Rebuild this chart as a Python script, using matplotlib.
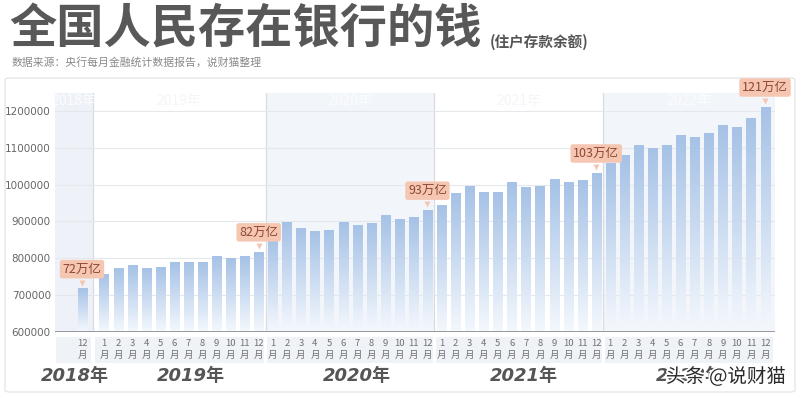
import numpy as np
import matplotlib
matplotlib.use("Agg")
import matplotlib.pyplot as plt
from matplotlib.colors import LinearSegmentedColormap
from matplotlib.patches import Rectangle, FancyBboxPatch
from matplotlib.transforms import blended_transform_factory, offset_copy
import matplotlib.patheffects as pe

plt.rcParams['font.family'] = ['Noto Sans CJK SC', 'DejaVu Sans']

# 住户存款余额（亿元），2018年12月 ~ 2022年12月
years = ['2018年', '2019年', '2020年', '2021年', '2022年']
months_2018 = [12]
deposits_2018 = [717000]
deposits_2019 = [757000, 771000, 780000, 772000, 776000, 788000,
                 788000, 789000, 804000, 799000, 804000, 817000]
deposits_2020 = [850000, 897000, 880000, 872000, 875000, 898000,
                 890000, 894000, 915000, 905000, 912000, 930000]
deposits_2021 = [944000, 977000, 996000, 979000, 979000, 1005000,
                 992000, 996000, 1014000, 1005000, 1011000, 1031000]
deposits_2022 = [1058000, 1078000, 1107000, 1099000, 1107000, 1132000,
                 1128000, 1138000, 1161000, 1156000, 1178000, 1210000]
yticks = [600000, 700000, 800000, 900000, 1000000, 1100000, 1200000]
callouts = {0: '72万亿', 12: '82万亿', 24: '93万亿', 36: '103万亿', 48: '121万亿'}

values = deposits_2018 + deposits_2019 + deposits_2020 + deposits_2021 + deposits_2022
month_nums = months_2018 + list(range(1, 13)) * 4
# 2018年12月 单独一格，和后面的月份之间留一点空
xs = [0.0] + [1.56 + i for i in range(48)]

fig = plt.figure(figsize=(8, 3.96), dpi=100)
fig.patch.set_facecolor('white')

# 外面的白色面板
panel = FancyBboxPatch((5 / 800, 4 / 396), 790 / 800, 314 / 396,
                       boxstyle='round,pad=0,rounding_size=0.006',
                       transform=fig.transFigure, fc='white', ec='#e6e6e6', lw=1, zorder=-5)
fig.patches.append(panel)

fig.text(9 / 800, 1 - 29 / 396, '全国人民存在银行的钱', fontsize=34, fontweight='bold',
         color='#585858', va='center', ha='left')
fig.text(490 / 800, 1 - 42 / 396, '(住户存款余额)', fontsize=10.5, fontweight='bold',
         color='#555555', va='center', ha='left')
fig.text(12 / 800, 1 - 62 / 396, '数据来源：央行每月金融统计数据报告，说财猫整理', fontsize=7.8,
         color='#8a8a8a', va='center', ha='left')

ax = fig.add_axes([55 / 800, 1 - 332 / 396, 720 / 800, 239 / 396])
ax.set_facecolor('none')
x0, x1 = -1.92, 49.27
y0, y1 = 600000, 1248500

# 年份背景色带
bounds = [x0, 0.78, 13.06, 25.06, 37.06, x1]
band_colors = ['#eef2f8', '#ffffff', '#f2f5f9', '#ffffff', '#f2f5f9']
trans = blended_transform_factory(ax.transData, ax.transAxes)
for i in range(5):
    ax.axvspan(bounds[i], bounds[i + 1], color=band_colors[i], zorder=0, lw=0)
for b in bounds[1:-1]:
    ax.axvline(b, color='#d8dce2', lw=0.9, zorder=1)

for yt in yticks[1:]:
    ax.axhline(yt, color='#e4e7eb', lw=0.8, zorder=1)

# 渐变柱子
cmap = LinearSegmentedColormap.from_list('dep', ['#f4f8fd', '#a6c2e6'])
grad = np.linspace(0, 1, 100).reshape(-1, 1)
w = 0.64
for x, v in zip(xs, values):
    ax.imshow(grad, extent=(x - w / 2, x + w / 2, y0, v), origin='lower',
              aspect='auto', cmap=cmap, zorder=2, interpolation='bicubic')

# 标注
box_color = '#f5c7b3'
label_trans = offset_copy(ax.transData, fig=fig, x=0, y=4.5, units='points')
for idx, txt in callouts.items():
    ax.annotate(txt, xy=(xs[idx], values[idx]), xytext=(0, 9.5), textcoords='offset points',
                ha='center', va='bottom', fontsize=9, color='#8e4731', zorder=5,
                bbox=dict(boxstyle='round,pad=0.22,rounding_size=0.2', fc=box_color, ec='none'))
    ax.plot(xs[idx], values[idx], marker='v', ms=5, color=box_color, mec='none',
            transform=label_trans, zorder=5)

ax.axhline(y0, color='#8d9096', lw=2, zorder=4)

ax.set_xlim(x0, x1)
ax.set_ylim(y0, y1)
ax.set_xticks([])
ax.set_yticks(yticks)
ax.set_yticklabels([str(t) for t in yticks], fontsize=7.5, color='#666666', family='DejaVu Sans')
ax.tick_params(axis='y', length=0, pad=3)
for s in ax.spines.values():
    s.set_visible(False)

# 月份标签的灰色底块
for i in range(5):
    left = bounds[i] + (0.12 if i > 0 else 0.05)
    right = bounds[i + 1] - 0.12
    ax.add_patch(Rectangle((left, -0.128), right - left, 0.108, transform=trans,
                           fc='#eff2f6', ec='none', clip_on=False, zorder=0))

for x, m in zip(xs, month_nums):
    ax.text(x, -0.05, str(m), transform=trans, ha='center', va='center',
            fontsize=6.8, color='#707070', clip_on=False)
    ax.text(x, -0.1, '月', transform=trans, ha='center', va='center',
            fontsize=6.8, color='#707070', clip_on=False)

year_x = [-0.5, 7.75, 19.56, 31.4, 43.2]
for yx, yl in zip(year_x, years):
    ax.text(yx, -0.185, yl, transform=trans, ha='center', va='center', fontsize=13,
            fontweight='bold', style='italic', color='#555555', clip_on=False,
            family=['DejaVu Sans', 'Noto Sans CJK SC'])

# 顶部淡淡的年份
for i, yl in enumerate(years):
    ax.text((bounds[i] + bounds[i + 1]) / 2, 0.965, yl, transform=trans, ha='center',
            va='center', fontsize=10, color='#f3f5f8' if band_colors[i] == '#ffffff' else '#fbfcfd',
            zorder=1)

fig.text(726 / 800, 1 - 377 / 396, '头条 @说财猫', fontsize=14, color='#2a2a2a',
         ha='center', va='center',
         path_effects=[pe.withStroke(linewidth=2.5, foreground='white')])

fig.savefig('out.png', dpi=100, facecolor=fig.get_facecolor())
